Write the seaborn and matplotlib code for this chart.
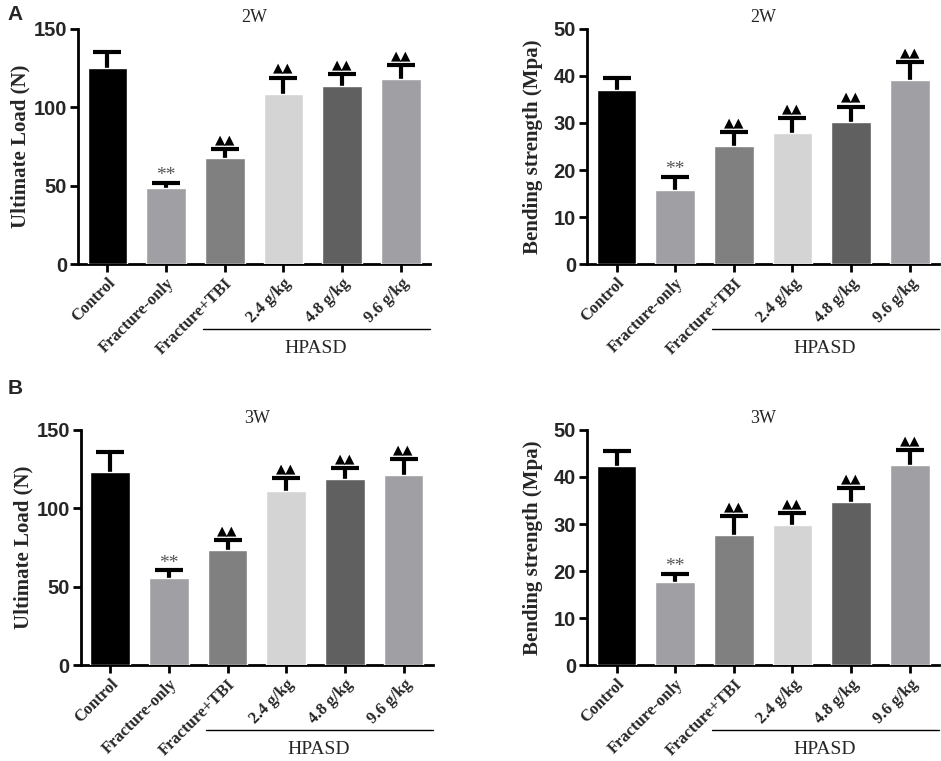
import numpy as np
import pandas as pd
import matplotlib
matplotlib.use("Agg")
import matplotlib.pyplot as plt
import matplotlib.transforms as mtransforms
import seaborn as sns

# --- data ---
groups = ["Control", "Fracture-only", "Fracture+TBI", "2.4 g/kg", "4.8 g/kg", "9.6 g/kg"]
bar_colors = ["#000000", "#A0A0A4", "#808080", "#D4D4D4", "#606060", "#A0A0A4"]
marks = ["", "**", "\u25b2\u25b2", "\u25b2\u25b2", "\u25b2\u25b2", "\u25b2\u25b2"]

load_2w = [125.0, 48.4, 67.9, 108.2, 113.3, 118.0]
load_2w_err = [10.3, 3.4, 5.6, 10.8, 8.1, 9.0]
bend_2w = [37.1, 15.7, 25.0, 27.8, 30.2, 39.2]
bend_2w_err = [2.4, 2.9, 3.1, 3.3, 3.3, 3.7]

load_3w = [123.4, 55.5, 73.4, 111.0, 118.5, 121.3]
load_3w_err = [12.7, 5.1, 6.4, 8.1, 7.4, 10.2]
bend_3w = [42.3, 17.6, 27.7, 29.7, 34.7, 42.5]
bend_3w_err = [3.2, 1.8, 4.0, 2.7, 3.0, 3.3]

serif = ["Liberation Serif", "DejaVu Serif"]
sans = ["Liberation Sans", "DejaVu Sans"]

sns.set_theme(style="ticks")
plt.rcParams["font.family"] = sans


def draw_panel(ax, values, errs, title, ylabel, ymax, step, labelpad):
    df = pd.DataFrame({"group": groups, "value": values})
    x = np.arange(len(groups))
    # symmetric SD bars drawn first; the opaque bars hide the lower half
    ax.errorbar(x, values, yerr=errs, fmt="none",
                ecolor="black", elinewidth=3, capsize=10, capthick=3, zorder=2)
    sns.barplot(data=df, x="group", y="value", hue="group", palette=bar_colors,
                order=groups, width=0.675, errorbar=None, legend=False,
                saturation=1, ax=ax)
    for p in ax.patches:
        p.set_zorder(3)
    for xi, v, e, m in zip(x, values, errs, marks):
        if not m:
            continue
        if m == "**":
            ax.annotate(m, (xi, v + e), xytext=(0, -1), textcoords="offset points",
                        ha="center", va="bottom", color="#555555", fontsize=14,
                        family=serif)
        else:
            ax.annotate(m, (xi, v + e), xytext=(0, 2), textcoords="offset points",
                        ha="center", va="bottom", color="black", fontsize=9.5,
                        family=["DejaVu Sans"])
    ax.set_xlim(-0.5, 5.5)
    ax.set_ylim(0, ymax)
    ax.set_yticks(np.arange(0, ymax + 1, step))
    ax.set_title(title, family=serif, fontsize=13, pad=5)
    ax.set_xlabel("")
    ax.set_ylabel(ylabel, family=serif, fontweight="bold", fontsize=15, labelpad=labelpad)
    for lab in ax.get_yticklabels():
        lab.set_fontweight("bold")
        lab.set_fontsize(14.5)
    ax.set_xticks(x)
    ax.set_xticklabels(groups, rotation=45, ha="right", rotation_mode="anchor",
                       family=serif, fontweight="bold", fontsize=12)
    sns.despine(ax=ax)
    for side in ["left", "bottom"]:
        ax.spines[side].set_linewidth(2)
        ax.spines[side].set_color("black")
    ax.tick_params(axis="both", width=2, length=6, color="black", pad=2)

    # HPASD bracket under the dose groups
    trans = mtransforms.blended_transform_factory(ax.transData, ax.transAxes)
    off = mtransforms.offset_copy(trans, fig=ax.figure, y=-47, units="points")
    ax.plot([1.63, 5.5], [0, 0], transform=off, color="black", lw=1,
            clip_on=False)
    ax.annotate("HPASD", xy=(3.55, 0), xycoords=trans, xytext=(0, -61),
                textcoords="offset points", ha="center", va="center",
                family=serif, fontsize=14, annotation_clip=False)


fig = plt.figure(figsize=(9.41, 7.61), dpi=100)
w, h = 0.374, 0.309
ax1 = fig.add_axes([0.083, 0.653, w, h])
ax2 = fig.add_axes([0.624, 0.653, w, h])
ax3 = fig.add_axes([0.086, 0.126, w, h])
ax4 = fig.add_axes([0.624, 0.126, w, h])

draw_panel(ax1, load_2w, load_2w_err, "2W", "Ultimate Load (N)", 150, 50, 2)
draw_panel(ax2, bend_2w, bend_2w_err, "2W", "Bending strength (Mpa)", 50, 10, 8)
draw_panel(ax3, load_3w, load_3w_err, "3W", "Ultimate Load (N)", 150, 50, 2)
draw_panel(ax4, bend_3w, bend_3w_err, "3W", "Bending strength (Mpa)", 50, 10, 8)

fig.text(0.008, 0.981, "A", fontsize=15, fontweight="bold", va="center", family=sans)
fig.text(0.008, 0.489, "B", fontsize=15, fontweight="bold", va="center", family=sans)

fig.savefig("out.png", dpi=100, facecolor="white")
